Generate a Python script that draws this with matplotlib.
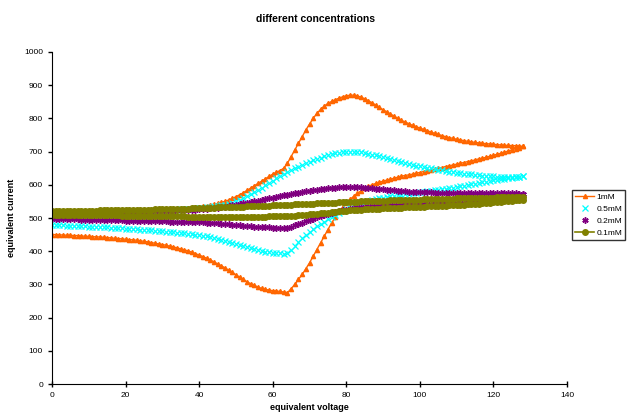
import matplotlib
matplotlib.use('Agg')
import matplotlib.pyplot as plt
import numpy as np

plt.rcParams['font.family'] = ['Liberation Sans', 'DejaVu Sans']

labels = ['1mM', '0.5mM', '0.2mM', '0.1mM']

# equivalent voltage sampled at every integer step, 0..128
voltage = list(range(129))

# lower (forward) and upper (return) branches, each indexed by voltage 0..128
c1_lower = [
    450, 450, 449, 449, 448, 448, 447, 447, 446, 445,
    445, 444, 443, 443, 442, 441, 440, 439, 438, 437,
    436, 435, 434, 433, 431, 430, 428, 426, 424, 422,
    420, 418, 415, 413, 410, 407, 404, 401, 397, 393,
    388, 384, 379, 374, 368, 362, 356, 350, 343, 336,
    329, 322, 315, 308, 302, 297, 292, 288, 285, 283,
    281, 280, 279, 277, 275, 287, 300, 315, 330, 347,
    365, 385, 405, 425, 445, 465, 485, 502, 518, 532,
    545, 556, 565, 574, 582, 589, 595, 600, 604, 608,
    611, 614, 617, 620, 623, 626, 628, 630, 632, 635,
    637, 640, 642, 645, 647, 650, 652, 655, 657, 660,
    662, 665, 667, 670, 672, 675, 678, 680, 683, 686,
    689, 692, 695, 698, 702, 705, 709, 712, 716]
c1_upper = [
    518, 518, 518, 518, 519, 519, 519, 519, 519, 520,
    520, 520, 520, 520, 520, 521, 521, 521, 521, 521,
    521, 521, 522, 522, 522, 523, 523, 524, 524, 525,
    525, 526, 526, 527, 528, 528, 529, 530, 531, 532,
    533, 535, 537, 539, 541, 544, 547, 550, 554, 559,
    564, 570, 576, 583, 590, 597, 604, 611, 618, 625,
    632, 638, 643, 650, 665, 685, 705, 725, 745, 765,
    783, 800, 815, 827, 837, 845, 851, 856, 861, 865,
    868, 870, 870, 868, 864, 859, 853, 847, 840, 833,
    826, 820, 813, 807, 800, 794, 789, 784, 779, 775,
    771, 767, 763, 759, 755, 752, 748, 745, 742, 740,
    737, 735, 733, 731, 729, 728, 726, 725, 724, 723,
    722, 721, 720, 719, 719, 718, 718, 717, 716]

c05_lower = [
    479, 479, 478, 478, 477, 477, 476, 476, 475, 475,
    474, 474, 473, 473, 472, 472, 471, 470, 470, 469,
    468, 468, 467, 466, 465, 465, 464, 463, 462, 461,
    460, 459, 458, 457, 456, 455, 454, 453, 452, 450,
    449, 447, 445, 443, 441, 438, 435, 432, 429, 426,
    423, 420, 416, 413, 410, 407, 404, 401, 399, 397,
    396, 395, 394, 393, 394, 405, 416, 428, 440, 450,
    459, 467, 475, 482, 489, 496, 502, 508, 514, 520,
    526, 531, 536, 540, 544, 548, 551, 554, 557, 559,
    561, 563, 565, 567, 568, 570, 571, 573, 574, 576,
    577, 579, 580, 582, 583, 585, 586, 588, 590, 591,
    593, 595, 597, 599, 601, 603, 605, 607, 609, 611,
    613, 615, 616, 618, 619, 621, 622, 624, 625]
c05_upper = [
    512, 512, 512, 513, 513, 513, 514, 514, 514, 515,
    515, 515, 516, 516, 516, 517, 517, 517, 518, 518,
    518, 519, 519, 519, 520, 520, 521, 521, 522, 522,
    523, 523, 524, 524, 525, 526, 526, 527, 528, 529,
    530, 531, 532, 533, 535, 536, 538, 540, 542, 545,
    550, 555, 560, 566, 572, 578, 584, 591, 598, 605,
    612, 619, 626, 632, 638, 644, 650, 655, 660, 665,
    670, 674, 678, 682, 686, 689, 692, 695, 697, 698,
    699, 700, 700, 699, 698, 696, 693, 691, 689, 687,
    684, 681, 678, 675, 672, 669, 666, 663, 661, 658,
    656, 654, 652, 650, 648, 646, 644, 642, 640, 639,
    637, 636, 634, 633, 632, 630, 629, 628, 627, 626,
    625, 624, 624, 623, 623, 623, 623, 624, 625]

c02_lower = [
    497, 497, 497, 497, 496, 496, 496, 496, 495, 495,
    495, 495, 494, 494, 494, 494, 493, 493, 493, 493,
    492, 492, 492, 492, 491, 491, 491, 491, 490, 490,
    490, 490, 489, 489, 489, 489, 488, 488, 488, 488,
    488, 487, 486, 486, 485, 484, 483, 482, 481, 480,
    479, 478, 477, 476, 475, 474, 474, 473, 473, 472,
    471, 471, 470, 470, 471, 474, 478, 482, 486, 490,
    494, 498, 502, 506, 509, 512, 515, 518, 520, 523,
    525, 527, 529, 530, 532, 533, 534, 535, 536, 537,
    538, 539, 539, 540, 540, 541, 541, 542, 542, 542,
    543, 543, 543, 543, 544, 544, 544, 544, 545, 545,
    545, 546, 546, 547, 547, 548, 549, 550, 551, 552,
    553, 555, 557, 559, 561, 563, 566, 569, 572]
c02_upper = [
    514, 514, 514, 514, 514, 515, 515, 515, 515, 515,
    515, 516, 516, 516, 516, 516, 517, 517, 517, 517,
    518, 518, 518, 518, 519, 519, 519, 520, 520, 520,
    521, 521, 522, 522, 523, 523, 524, 524, 525, 525,
    526, 527, 528, 529, 530, 531, 532, 534, 536, 538,
    540, 542, 544, 546, 548, 550, 552, 554, 557, 559,
    561, 564, 566, 568, 570, 572, 574, 576, 578, 580,
    582, 584, 585, 587, 588, 589, 590, 591, 592, 592,
    593, 593, 593, 592, 592, 591, 590, 589, 588, 587,
    586, 585, 584, 583, 582, 581, 580, 579, 579, 578,
    578, 577, 577, 577, 576, 576, 576, 576, 575, 575,
    575, 575, 575, 575, 575, 575, 575, 575, 575, 575,
    575, 575, 575, 575, 575, 574, 574, 573, 572]

c01_lower = [
    510, 510, 510, 510, 510, 510, 509, 509, 509, 509,
    509, 509, 509, 508, 508, 508, 508, 508, 508, 507,
    507, 507, 507, 507, 507, 506, 506, 506, 506, 506,
    506, 505, 505, 505, 505, 505, 505, 504, 504, 504,
    504, 504, 504, 504, 504, 504, 504, 504, 504, 504,
    504, 504, 504, 504, 504, 504, 504, 504, 504, 505,
    505, 505, 505, 505, 506, 506, 507, 508, 509, 510,
    511, 512, 513, 514, 515, 516, 518, 519, 520, 521,
    522, 523, 524, 525, 525, 526, 527, 527, 528, 528,
    529, 529, 530, 530, 531, 531, 532, 532, 533, 533,
    534, 534, 535, 535, 536, 536, 537, 537, 538, 538,
    539, 540, 540, 541, 542, 542, 543, 544, 545, 546,
    547, 548, 549, 550, 551, 552, 553, 554, 555]
c01_upper = [
    521, 521, 521, 521, 521, 522, 522, 522, 522, 522,
    522, 522, 522, 523, 523, 523, 523, 523, 523, 524,
    524, 524, 524, 524, 525, 525, 525, 525, 526, 526,
    526, 526, 527, 527, 527, 528, 528, 528, 529, 529,
    530, 530, 530, 531, 531, 532, 532, 532, 533, 533,
    534, 534, 534, 535, 535, 536, 536, 536, 537, 537,
    538, 538, 539, 539, 540, 540, 541, 541, 542, 542,
    543, 543, 544, 544, 545, 545, 546, 546, 547, 547,
    548, 548, 549, 549, 550, 550, 550, 551, 551, 552,
    552, 552, 553, 553, 553, 554, 554, 554, 555, 555,
    555, 556, 556, 556, 557, 557, 557, 558, 558, 558,
    559, 559, 559, 560, 560, 560, 560, 561, 561, 561,
    561, 562, 562, 562, 562, 563, 563, 563, 563]

branches = [(c1_lower, c1_upper), (c05_lower, c05_upper),
            (c02_lower, c02_upper), (c01_lower, c01_upper)]

styles = [
    dict(color='#FF6600', marker='^', markersize=3, linewidth=1.0, linestyle='-'),
    dict(color='#00FFFF', marker='x', markersize=4, markeredgewidth=0.9, linestyle='none'),
    dict(color='#800080', marker=(6, 2, 0), markersize=4.5, markeredgewidth=1.1, linestyle='none'),
    dict(color='#808000', marker='o', markersize=4, linewidth=1.2, linestyle='-'),
]

fig = plt.figure(figsize=(6.3, 4.19), dpi=100)
ax = fig.add_axes([52 / 630, 35 / 419, 515 / 630, 332 / 419])

for (lower, upper), lab, st in zip(branches, labels, styles):
    xs = voltage + voltage[::-1]
    ys = lower + upper[::-1]
    ax.plot(xs, ys, label=lab, **st)

ax.set_xlim(0, 140)
ax.set_ylim(0, 1000)
ax.set_xticks(range(0, 141, 20))
ax.set_yticks(range(0, 1001, 100))
for s in ['top', 'right']:
    ax.spines[s].set_visible(False)
ax.tick_params(axis='both', labelsize=6, length=3, width=1)
ax.tick_params(axis='x', direction='inout', length=4)

ax.set_xlabel('equivalent voltage', fontsize=6.5, fontweight='bold', labelpad=3)
ax.set_ylabel('equivalent current', fontsize=6.5, fontweight='bold', labelpad=6)
fig.suptitle('different concentrations', fontsize=7.5, fontweight='bold', x=0.5, y=0.967)

leg = fig.legend(loc='upper left', bbox_to_anchor=(572 / 630, 1 - 190 / 419),
                 fontsize=6, frameon=True, fancybox=False, edgecolor='black',
                 handlelength=2.2, borderpad=0.4, labelspacing=0.5,
                 handletextpad=0.3, borderaxespad=0)
leg.get_frame().set_linewidth(1)

fig.savefig('out.png', dpi=100)
